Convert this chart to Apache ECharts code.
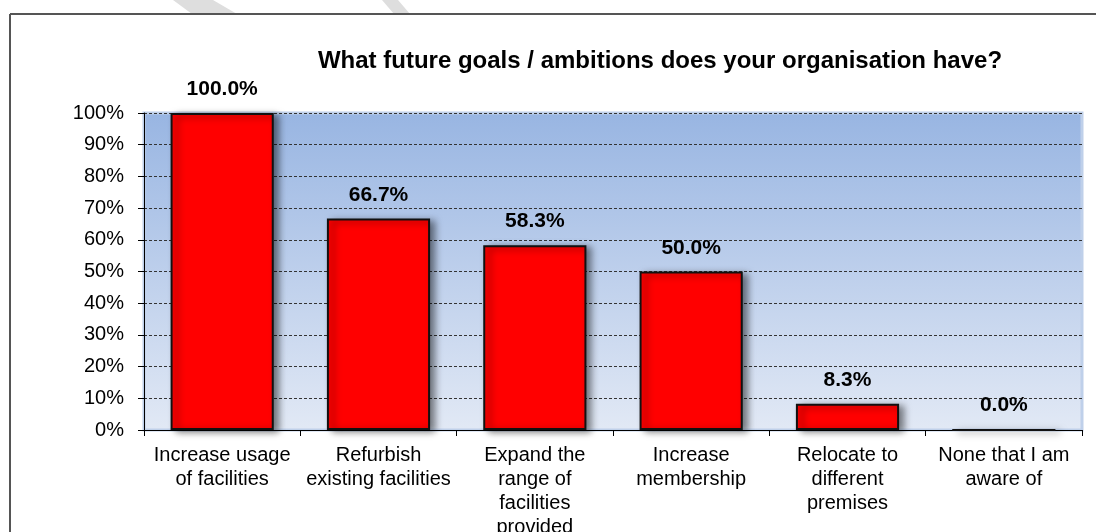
<!DOCTYPE html>
<html>
<head>
<meta charset="utf-8">
<script src="https://cdn.jsdelivr.net/npm/echarts@6/dist/echarts.min.js"></script>
<style>
  html, body { margin: 0; padding: 0; background: #fff; }
  #chart { width: 1096px; height: 532px; }
</style>
</head>
<body>
<div id="chart"></div>
<script>
const categories = [
  'Increase usage\nof facilities',
  'Refurbish\nexisting facilities',
  'Expand the\nrange of\nfacilities\nprovided',
  'Increase\nmembership',
  'Relocate to\ndifferent\npremises',
  'None that I am\naware of'
]
const percentages = [100.0, 66.7, 58.3, 50.0, 8.3, 0.0]
const yTicks = [0, 10, 20, 30, 40, 50, 60, 70, 80, 90, 100]

const fontFamily = '"Liberation Sans", Arial, sans-serif'
const chart = echarts.init(document.getElementById('chart'))

const option = {
  animation: false,
  title: {
    text: 'What future goals / ambitions does your organisation have?',
    left: 655,
    textAlign: 'center',
    top: 44,
    textStyle: { fontFamily, fontSize: 24, fontWeight: 'bold', color: '#000' }
  },
  graphic: [
    // faint diagonal marks above the frame
    { type: 'polygon', silent: true, shape: { points: [[173, 0], [213, 0], [237, 14], [192, 14]] }, style: { fill: '#dedede' } },
    { type: 'polygon', silent: true, shape: { points: [[382, 0], [398, 0], [410, 14], [394, 14]] }, style: { fill: '#dedede' } },
    { type: 'line', silent: true, shape: { x1: 10, y1: 14, x2: 1096, y2: 14 }, style: { stroke: '#555', lineWidth: 2 } },
    { type: 'line', silent: true, shape: { x1: 10, y1: 14, x2: 10, y2: 532 }, style: { stroke: '#555', lineWidth: 2 } }
  ],
  grid: {
    left: 144,
    right: 14,
    top: 113,
    bottom: 102,
    outerBoundsMode: 'none',
    containLabel: false,
    show: true,
    borderColor: '#bfd0ea',
    borderWidth: 3,
    backgroundColor: new echarts.graphic.LinearGradient(0, 0, 0, 1, [
      { offset: 0, color: '#98b5e2' },
      { offset: 1, color: '#e2e9f5' }
    ])
  },
  xAxis: {
    type: 'category',
    data: categories,
    axisLine: { lineStyle: { color: '#000', width: 1 } },
    axisTick: { show: true, length: 6, lineStyle: { color: '#000' } },
    axisLabel: {
      interval: 0,
      fontFamily,
      fontSize: 20,
      color: '#000',
      lineHeight: 24,
      margin: 13
    }
  },
  yAxis: {
    type: 'value',
    min: 0,
    max: 100,
    interval: 10,
    axisLine: { show: true, lineStyle: { color: '#000' } },
    axisTick: { show: true, length: 6, lineStyle: { color: '#000' } },
    axisLabel: {
      fontFamily,
      fontSize: 20,
      color: '#000',
      margin: 20,
      formatter: v => yTicks.includes(v) ? v + '%' : ''
    },
    splitLine: { show: true, lineStyle: { color: '#333', type: [3, 2], width: 1 } }
  },
  series: [
    {
      type: 'bar',
      data: percentages,
      barCategoryGap: '34%',
      itemStyle: {
        color: '#ff0000',
        borderColor: '#111',
        borderWidth: 2,
        shadowColor: 'rgba(0, 0, 0, 0.5)',
        shadowBlur: 7,
        shadowOffsetX: 5,
        shadowOffsetY: 2
      },
      label: {
        show: true,
        position: 'top',
        distance: 13,
        fontFamily,
        fontSize: 21,
        fontWeight: 'bold',
        color: '#000',
        formatter: p => p.value.toFixed(1) + '%'
      }
    }
  ]
}

chart.setOption(option)
</script>
</body>
</html>
